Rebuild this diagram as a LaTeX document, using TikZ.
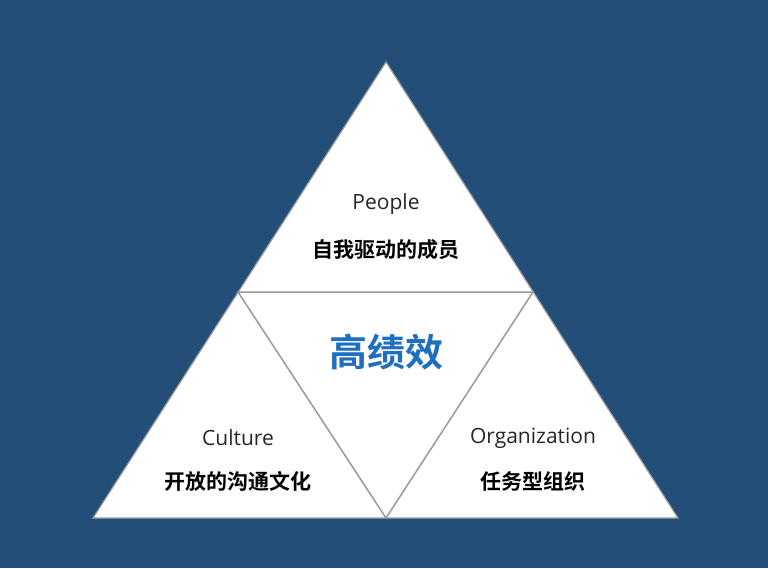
\documentclass[tikz,border=0pt]{standalone}
\usepackage{fontspec}
\setmainfont{Open Sans}
\newfontfamily\cjk{Noto Sans CJK SC}[BoldFont={* Bold}]
\definecolor{bg}{HTML}{234E78}
\definecolor{ln}{HTML}{9A9A9A}
\definecolor{hl}{HTML}{1E6FC0}
\begin{document}
\begin{tikzpicture}[x=1pt,y=-1pt,
  en/.style={font=\fontsize{21}{24}\selectfont,text=black!85},
  zh/.style={font=\cjk\bfseries\fontsize{21}{24}\selectfont,text=black}]
\fill[bg] (0,0) rectangle (768,568);
\useasboundingbox (0,0) rectangle (768,568);
\coordinate (A) at (386,62);
\coordinate (L) at (93,518);
\coordinate (R) at (678,518);
\coordinate (ML) at (238,292);
\coordinate (MR) at (533,292);
\coordinate (B) at (386,518);
\filldraw[fill=white,draw=ln,line width=1.2pt] (A) -- (L) -- (R) -- cycle;
\draw[ln,line width=1.5pt] (ML) -- (MR) -- (B) -- cycle;
\draw[bg,line width=3pt] (386,520) -- (386,526);
\node[en] (p) at (386,204) {People};
\node[zh] (pz) at (386,250) {自我驱动的成员};
\node[font=\cjk\bfseries\fontsize{38}{42}\selectfont,text=hl] (c) at (386,352) {高绩效};
\node[en] (cu) at (238,438) {Culture};
\node[zh] (cuz) at (238,481) {开放的沟通文化};
\node[en] (o) at (533,438) {Organization};
\node[zh] (oz) at (533,481) {任务型组织};
\end{tikzpicture}
\end{document}
